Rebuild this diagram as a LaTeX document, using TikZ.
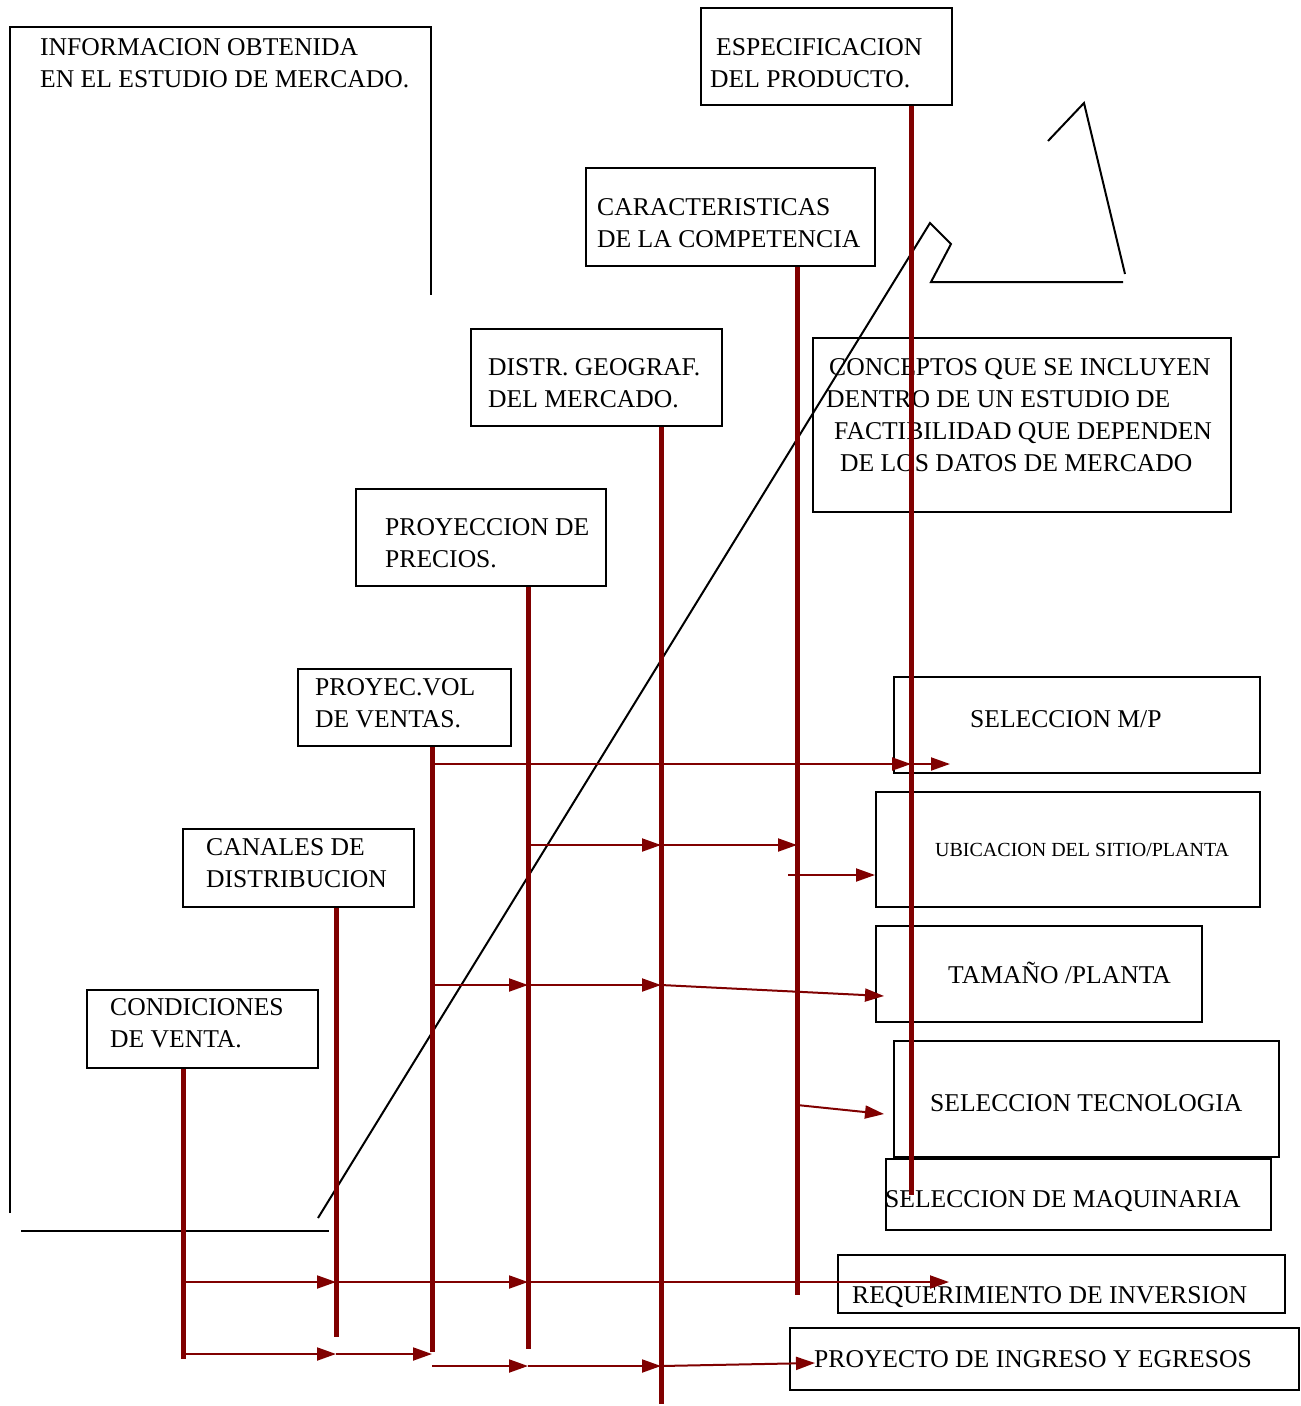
\documentclass[tikz,border=0pt]{standalone}
\usepackage{fontspec}
\setmainfont{Liberation Serif}
\usetikzlibrary{arrows.meta}
\definecolor{stemred}{RGB}{128,0,0}
\tikzset{
    box/.style={draw, line width=2pt, inner sep=0, anchor=north west},
    txt/.style={align=left, anchor=base west, inner sep=0, font=\fontsize{25.6}{32}\selectfont},
    stem/.style={draw=stemred, line width=5pt},
    feed/.style={draw=stemred, line width=2pt, -{Triangle[length=19pt, width=13pt]}},
    rule/.style={line width=2pt}
}
\begin{document}
\begin{tikzpicture}[x=1pt, y=-1pt]
    \useasboundingbox (0,0) rectangle (1301,1406);

    \node[box, minimum width=251, minimum height=97] (espec) at (700,7) {};
    \node[box, minimum width=289, minimum height=98] (compet) at (585,167) {};
    \node[box, minimum width=251, minimum height=97] (geograf) at (470,328) {};
    \node[box, minimum width=250, minimum height=97] (precios) at (355,488) {};
    \node[box, minimum width=213, minimum height=77] (ventas) at (297,668) {};
    \node[box, minimum width=231, minimum height=78] (canales) at (182,828) {};
    \node[box, minimum width=231, minimum height=78] (condic) at (86,989) {};
    \node[box, minimum width=418, minimum height=174] (conceptos) at (812,337) {};
    \node[box, minimum width=366, minimum height=96] (mp) at (893,676) {};
    \node[box, minimum width=384, minimum height=115] (ubic) at (875,791) {};
    \node[box, minimum width=326, minimum height=96] (tamano) at (875,925) {};
    \node[box, minimum width=385, minimum height=116] (tecno) at (893,1040) {};
    \node[box, minimum width=385, minimum height=71] (maq) at (885,1158) {};
    \node[box, minimum width=447, minimum height=58] (inversion) at (837,1254) {};
    \node[box, minimum width=509, minimum height=62] (ingresos) at (789,1327) {};

    \node[txt] (info-txt) at (40,87.5) {INFORMACION OBTENIDA\\EN EL ESTUDIO DE MERCADO.};
    \node[txt] (espec-txt) at (710,87.5) {\hspace*{6pt}ESPECIFICACION\\DEL PRODUCTO.};
    \node[txt] (compet-txt) at (597,247.5) {CARACTERISTICAS\\DE LA COMPETENCIA};
    \node[txt] (geograf-txt) at (488,407.5) {DISTR. GEOGRAF.\\DEL MERCADO.};
    \node[txt] (precios-txt) at (385,567.5) {PROYECCION DE\\PRECIOS.};
    \node[txt] (ventas-txt) at (315,727.5) {PROYEC.VOL\\DE VENTAS.};
    \node[txt] (canales-txt) at (206,887.5) {CANALES DE\\DISTRIBUCION};
    \node[txt] (condic-txt) at (110,1047.5) {CONDICIONES\\DE VENTA.};
    \node[txt] (conceptos-txt) at (826,471.5) {\hspace*{3pt}CONCEPTOS QUE SE INCLUYEN\\DENTRO DE UN ESTUDIO DE\\\hspace*{8pt}FACTIBILIDAD QUE DEPENDEN\\\hspace*{14pt}DE LOS DATOS DE MERCADO};
    \node[txt] (mp-txt) at (970,727.5) {SELECCION M/P};
    \node[txt, font=\fontsize{20}{25}\selectfont] (ubic-txt) at (935,856.5) {UBICACION DEL SITIO/PLANTA};
    \node[txt] (tamano-txt) at (948,983.5) {TAMAÑO /PLANTA};
    \node[txt] (tecno-txt) at (930,1111.5) {SELECCION TECNOLOGIA};
    \node[txt] (maq-txt) at (885,1207.5) {SELECCION DE MAQUINARIA};
    \node[txt] (inversion-txt) at (852,1303.5) {REQUERIMIENTO DE INVERSION};
    \node[txt] (ingresos-txt) at (814,1367.5) {PROYECTO DE INGRESO Y EGRESOS};

    \draw[rule] (10,1213) -- (10,27) -- (431,27) -- (431,295);
    \draw[rule] (21,1231) -- (329,1231);
    \draw[rule] (318,1218) -- (930,223) -- (951,244) -- (931,282) -- (1123,282);
    \draw[rule] (1048,141) -- (1084,103) -- (1125,274);

    \coordinate (espec-bot) at (911,1195);
    \coordinate (compet-bot) at (797,1295);
    \coordinate (geograf-bot) at (661,1404);
    \coordinate (precios-bot) at (528,1349);
    \coordinate (ventas-bot) at (432,1352);
    \coordinate (canales-bot) at (336,1337);
    \coordinate (condic-bot) at (183,1359);

    \draw[stem] (espec.south -| espec-bot) -- (espec-bot);
    \draw[stem] (compet.south -| compet-bot) -- (compet-bot);
    \draw[stem] (geograf.south -| geograf-bot) -- (geograf-bot);
    \draw[stem] (precios.south -| precios-bot) -- (precios-bot);
    \draw[stem] (ventas.south -| ventas-bot) -- (ventas-bot);
    \draw[stem] (canales.south -| canales-bot) -- (canales-bot);
    \draw[stem] (condic.south -| condic-bot) -- (condic-bot);

    \coordinate (rowA) at (0,764);
    \coordinate (rowB) at (0,845);
    \coordinate (rowC) at (0,875);
    \coordinate (rowD) at (0,985);
    \coordinate (rowE) at (0,1105);
    \coordinate (rowF) at (0,1282);
    \coordinate (rowG) at (0,1354);
    \coordinate (rowH) at (0,1366);
    \coordinate (tamano-in) at (884,996);
    \coordinate (tecno-in) at (884,1114);
    \coordinate (ingresos-in) at (815,1363);

    \draw[feed] (ventas-bot |- rowA) -- (espec-bot |- rowA);
    \draw[feed] (espec-bot |- rowA) -- ++(39,0);
    \draw[feed] (precios-bot |- rowB) -- (geograf-bot |- rowB);
    \draw[feed] (geograf-bot |- rowB) -- (compet-bot |- rowB);
    \draw[feed] ([xshift=-9pt]compet-bot |- rowC) -- (ubic.west |- rowC);
    \draw[feed] (ventas-bot |- rowD) -- (precios-bot |- rowD);
    \draw[feed] (precios-bot |- rowD) -- (geograf-bot |- rowD);
    \draw[feed] (geograf-bot |- rowD) -- (tamano-in);
    \draw[feed] (compet-bot |- rowE) -- (tecno-in);
    \draw[feed] (condic-bot |- rowF) -- (canales-bot |- rowF);
    \draw[feed] (canales-bot |- rowF) -- (precios-bot |- rowF);
    \draw[feed] (precios-bot |- rowF) -- ++(421,0);
    \draw[feed] (condic-bot |- rowG) -- (canales-bot |- rowG);
    \draw[feed] (canales-bot |- rowG) -- (ventas-bot |- rowG);
    \draw[feed] (ventas-bot |- rowH) -- (precios-bot |- rowH);
    \draw[feed] (precios-bot |- rowH) -- (geograf-bot |- rowH);
    \draw[feed] (geograf-bot |- rowH) -- (ingresos-in);
\end{tikzpicture}
\end{document}
